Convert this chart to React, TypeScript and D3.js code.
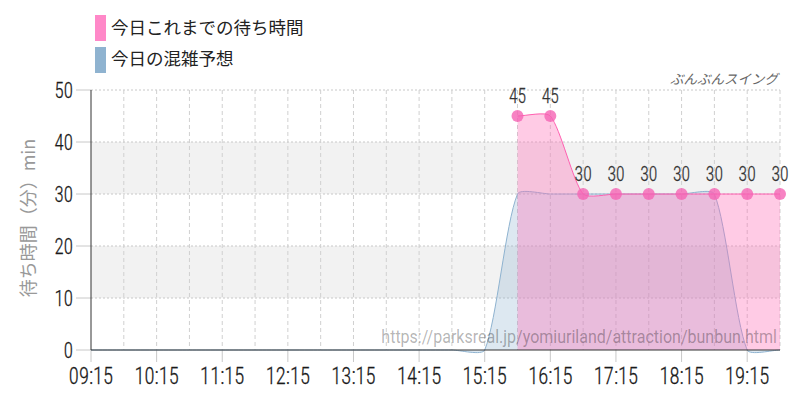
import React from "react";
import * as d3 from "d3";

const xTickLabels = ["09:15", "10:15", "11:15", "12:15", "13:15", "14:15", "15:15", "16:15", "17:15", "18:15", "19:15"];
const forecastTimes = ["09:15", "09:45", "10:15", "10:45", "11:15", "11:45", "12:15", "12:45", "13:15", "13:45", "14:15", "14:45", "15:15", "15:45", "16:15", "16:45", "17:15", "17:45", "18:15", "18:45", "19:15", "19:45"];
const forecastValues = [0, 0, 0, 0, 0, 0, 0, 0, 0, 0, 0, 0, 0, 30, 30, 30, 30, 30, 30, 30, 0, 0];
const actualTimes = ["15:45", "16:15", "16:45", "17:15", "17:45", "18:15", "18:45", "19:15", "19:45"];
const actualValues = [45, 45, 30, 30, 30, 30, 30, 30, 30];
const yTicks = [0, 10, 20, 30, 40, 50];
const legendLabels = ["今日これまでの待ち時間", "今日の混雑予想"];
const title = "ぶんぶんスイング";
const yTitle = "待ち時間（分）min";
const sourceUrl = "https://parksreal.jp/yomiuriland/attraction/bunbun.html";

const toMin = (s: string) => {
  const [h, m] = s.split(":").map(Number);
  return h * 60 + m;
};

const W = 800, H = 400;
const L = 91, R = 780, T = 90, B = 350;
const numFont = "'Roboto Condensed', 'Liberation Sans Narrow', 'DejaVu Sans Condensed', Roboto, sans-serif";
const jpFont = "'Noto Sans CJK JP', sans-serif";
const SX = 0.86;
const TENSION = 0.22;

type P = { x: number; y: number };

function splinePath(pts: P[], tension: number, closeTo?: number): string {
  const p = d3.path();
  const ctrl = pts.map((cur, i) => {
    const prev = pts[i - 1] || cur;
    const next = pts[i + 1] || cur;
    const d01 = Math.hypot(cur.x - prev.x, cur.y - prev.y);
    const d12 = Math.hypot(next.x - cur.x, next.y - cur.y);
    let s01 = d01 / (d01 + d12);
    let s12 = d12 / (d01 + d12);
    if (!isFinite(s01)) s01 = 0;
    if (!isFinite(s12)) s12 = 0;
    const fa = tension * s01, fb = tension * s12;
    return {
      px: cur.x - fa * (next.x - prev.x), py: cur.y - fa * (next.y - prev.y),
      nx: cur.x + fb * (next.x - prev.x), ny: cur.y + fb * (next.y - prev.y),
    };
  });
  if (closeTo !== undefined) {
    p.moveTo(pts[0].x, closeTo);
    p.lineTo(pts[0].x, pts[0].y);
  } else {
    p.moveTo(pts[0].x, pts[0].y);
  }
  for (let i = 1; i < pts.length; i++) {
    p.bezierCurveTo(ctrl[i - 1].nx, ctrl[i - 1].ny, ctrl[i].px, ctrl[i].py, pts[i].x, pts[i].y);
  }
  if (closeTo !== undefined) {
    p.lineTo(pts[pts.length - 1].x, closeTo);
    p.closePath();
  }
  return p.toString();
}

function NumText(props: { x: number; y: number; size: number; anchor: string; fill: string; children: React.ReactNode; dy?: string }) {
  return (
    <text
      transform={`translate(${props.x},${props.y}) scale(${SX},1)`}
      dy={props.dy}
      textAnchor={props.anchor}
      fontFamily={numFont}
      fontWeight={300}
      fontSize={props.size}
      fill={props.fill}
      stroke={props.fill}
      strokeWidth={0.25}
    >
      {props.children}
    </text>
  );
}

export default function App() {
  const x = d3.scaleLinear().domain([toMin("09:15"), toMin("19:45")]).range([L, R]);
  const y = d3.scaleLinear().domain([0, 50]).range([B, T]);

  const fPts = forecastTimes.map((t, i) => ({ x: x(toMin(t)), y: y(forecastValues[i]) }));
  const aPts = actualTimes.map((t, i) => ({ x: x(toMin(t)), y: y(actualValues[i]) }));

  const halfHours: number[] = [];
  for (let m = toMin("09:45"); m <= toMin("19:45"); m += 30) halfHours.push(m);

  return (
    <svg width={W} height={H} style={{ position: "absolute", left: 0, top: 0, background: "#fff" }}>
      <defs>
        <clipPath id="plot">
          <rect x={L} y={T - 10} width={R - L} height={B - T + 20} />
        </clipPath>
      </defs>
      {[[30, 40], [10, 20]].map(([a, b], i) => (
        <rect key={i} x={L} y={y(b)} width={R - L} height={y(a) - y(b)} fill="#f2f2f2" />
      ))}
      {yTicks.filter(v => v > 0).map(v => (
        <line key={v} x1={L} x2={R} y1={y(v)} y2={y(v)} stroke="#c8c8c8" strokeDasharray="2,2" />
      ))}
      {halfHours.map(m => (
        <line key={m} x1={x(m)} x2={x(m)} y1={T} y2={B} stroke="#d0d0d0" strokeDasharray="4,3" />
      ))}
      {yTicks.map(v => (
        <line key={v} x1={L - 15} x2={L} y1={y(v)} y2={y(v)} stroke="#c8c8c8" />
      ))}
      {xTickLabels.map(s => (
        <line key={s} x1={x(toMin(s))} x2={x(toMin(s))} y1={B} y2={B + 12} stroke="#c8c8c8" />
      ))}
      <g clipPath="url(#plot)">
        <path d={splinePath(fPts, TENSION, y(0))} fill="rgba(143,179,208,0.3)" />
        <path d={splinePath(fPts, TENSION)} fill="none" stroke="#8fb3d0" strokeWidth={1} />
        <path d={splinePath(aPts, TENSION, y(0))} fill="rgba(255,105,180,0.35)" />
        <path d={splinePath(aPts, TENSION)} fill="none" stroke="#ff5fb0" strokeWidth={1} />
      </g>
      <line x1={L} x2={L} y1={T} y2={B} stroke="#333" />
      <line x1={L} x2={R} y1={B} y2={B} stroke="#333" />
      {yTicks.map(v => (
        <NumText key={v} x={L - 18} y={y(v)} dy="0.36em" anchor="end" size={22} fill="#1a1a1a">{v}</NumText>
      ))}
      {xTickLabels.map(s => (
        <NumText key={s} x={x(toMin(s))} y={384} anchor="middle" size={24} fill="#1a1a1a">{s}</NumText>
      ))}
      {aPts.map((d, i) => (
        <circle key={i} cx={d.x} cy={d.y} r={6} fill="rgba(245,100,180,0.8)" />
      ))}
      {aPts.map((d, i) => (
        <NumText key={i} x={d.x} y={d.y - 13} anchor="middle" size={20.5} fill="#333">{actualValues[i]}</NumText>
      ))}
      <text transform="translate(777,343) scale(0.915,1)" textAnchor="end" fontFamily="Roboto, sans-serif" fontSize={17.5} fill="rgba(0,0,0,0.3)">{sourceUrl}</text>
      <text x={778} y={84} textAnchor="end" fontFamily={jpFont} fontStyle="italic" fontSize={13.5} fill="#666">{title}</text>
      <text transform="translate(35,218) rotate(-90)" textAnchor="middle" fontFamily={jpFont} fontSize={18} fill="#999">{yTitle}</text>
      <rect x={95} y={15} width={11} height={26} fill="#ff88c8" />
      <rect x={95} y={47} width={11} height={26} fill="#8fb3d0" />
      <text x={111} y={34} fontFamily={jpFont} fontSize={17.5} fill="#222">{legendLabels[0]}</text>
      <text x={111} y={65} fontFamily={jpFont} fontSize={17.5} fill="#222">{legendLabels[1]}</text>
    </svg>
  );
}
